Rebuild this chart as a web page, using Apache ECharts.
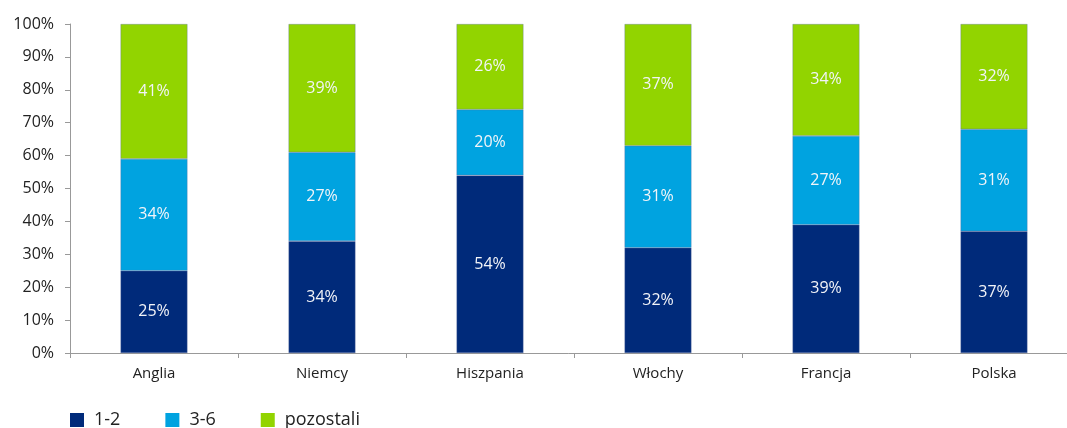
<!DOCTYPE html>
<html><head><meta charset="utf-8">
<script src="https://cdn.jsdelivr.net/npm/echarts@6/dist/echarts.min.js"></script>
<style>html,body{margin:0;padding:0;background:#fff}#c{width:1067px;height:428px}</style>
</head><body><div id="c"></div>
<script>
const categories = ['Anglia','Niemcy','Hiszpania','Włochy','Francja','Polska'];
const s12 = [25,34,54,32,39,37];
const s36 = [34,27,20,31,27,31];
const sPoz = [41,39,26,37,34,32];
const seriesNames = ['1-2','3-6','pozostali'];
const colors = ['#002A7A','#00A3E0','#92D400'];
const font = '"Open Sans", "Noto Sans", sans-serif';
const chart = echarts.init(document.getElementById('c'));
function mk(name, data, color){
  return {name, type:'bar', stack:'t', data, barWidth:67,
    itemStyle:{color, borderColor:'rgba(90,110,160,0.6)', borderWidth:0.6},
    label:{show:true, position:'inside', formatter:'{c}%', color:'#f2f4f8', fontSize:16, fontFamily:font},
    emphasis:{disabled:true}};
}
chart.setOption({
  animation:false,
  textStyle:{fontFamily:font},
  grid:{left:70, width:1008, top:24, bottom:75, containLabel:false, outerBoundsMode:'none'},
  legend:{left:65, top:406, itemWidth:14, itemHeight:14, itemGap:45, icon:'rect',
    itemStyle:{borderWidth:0},
    textStyle:{fontSize:18, color:'#222', fontFamily:font, padding:[0,0,0,5]}, data:seriesNames},
  xAxis:{type:'category', data:categories,
    axisLine:{lineStyle:{color:'#999'}}, axisTick:{show:true, length:5, lineStyle:{color:'#999'}},
    axisLabel:{fontSize:15, color:'#222', margin:13, fontFamily:font}},
  yAxis:{type:'value', min:0, max:100, interval:10,
    axisLine:{show:true, lineStyle:{color:'#999'}}, axisTick:{show:true, length:5, lineStyle:{color:'#999'}},
    splitLine:{show:false},
    axisLabel:{formatter:'{value}%', fontSize:16, color:'#222', margin:16, fontFamily:font}},
  series:[mk(seriesNames[0], s12, colors[0]), mk(seriesNames[1], s36, colors[1]), mk(seriesNames[2], sPoz, colors[2])]
});
</script></body></html>
